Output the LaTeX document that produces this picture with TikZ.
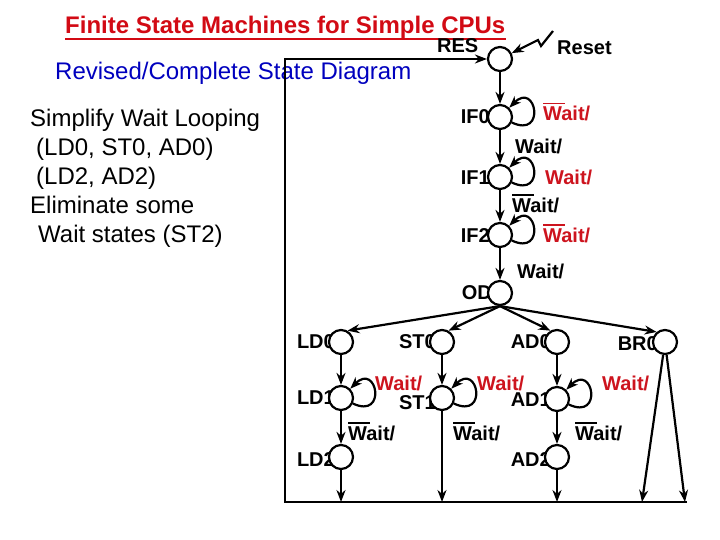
\documentclass[tikz,border=0pt]{standalone}
\usepackage{fontspec}
\setmainfont{Liberation Sans}
\usepackage{xcolor}
\usetikzlibrary{positioning,arrows.meta}

\definecolor{titlered}{RGB}{210,10,20}
\definecolor{loopred}{RGB}{205,20,30}
\definecolor{subblue}{RGB}{0,0,190}

\newcommand{\nwait}{\rlap{\rule[16.5pt]{22pt}{1.8pt}}Wait/}

\begin{document}
\begin{tikzpicture}[x=1pt,y=1pt,
  state/.style={circle,draw,fill=white,line width=2.2pt,minimum size=24pt,inner sep=0pt},
  statename/.style={font=\fontsize{20}{24}\selectfont\bfseries,inner sep=0pt,anchor=east},
  cond/.style={font=\fontsize{20}{24}\selectfont\bfseries,inner sep=0pt,anchor=base west},
  holdcond/.style={cond,text=loopred},
  note/.style={font=\fontsize{24}{29}\selectfont,inner sep=0pt,anchor=base west},
  arr/.style={line width=2.2pt,-{Stealth[length=12pt,width=9pt]}},
  selfloop/.style={arr,loop,out=-25,in=45,min distance=38pt}]

\useasboundingbox (0,-540) rectangle (720,0);

\node[anchor=base west,font=\fontsize{24}{29}\selectfont\bfseries,text=titlered,inner sep=0pt] (title) at (65,-34) {Finite State Machines for Simple CPUs};
\draw[titlered,line width=2pt] ([yshift=-5pt]title.base west) -- ([yshift=-5pt]title.base east);
\node[note,text=subblue] (sub) at (55,-80) {Revised/Complete State Diagram};

\node[note] (n1) at (30,-127) {Simplify Wait Looping};
\node[note] (n2) at (36,-156) {(LD0, ST0, AD0)};
\node[note] (n3) at (36,-185) {(LD2, AD2)};
\node[note] (n4) at (30,-214) {Eliminate some};
\node[note] (n5) at (38,-243) {Wait states (ST2)};

\node[cond] (resl) at (437,-53) {RES};
\node[cond] (rstl) at (557,-55) {Reset};
\node[statename] (if0l) at (490,-117) {IF0};
\node[statename] (if1l) at (490,-178) {IF1};
\node[statename] (if2l) at (490,-236) {IF2};
\node[statename] (odl) at (492,-293) {OD};
\node[statename] (ld0l) at (335,-342) {LD0};
\node[statename] (st0l) at (436,-342) {ST0};
\node[statename] (ad0l) at (551,-342) {AD0};
\node[statename] (br0l) at (658,-344) {BR0};
\node[statename] (ld1l) at (335,-398) {LD1};
\node[statename] (st1l) at (436,-403) {ST1};
\node[statename] (ad1l) at (551,-400) {AD1};
\node[statename] (ld2l) at (335,-460) {LD2};
\node[statename] (ad2l) at (551,-460) {AD2};

\node[state] (res) at (500,-59) {};
\node[state] (if0) at (500,-117) {};
\node[state] (if1) at (500,-177) {};
\node[state] (if2) at (500,-235) {};
\node[state] (od) at (500,-293) {};
\node[state] (ld0) at (341,-342) {};
\node[state] (st0) at (442,-342) {};
\node[state] (ad0) at (557,-342) {};
\node[state] (br0) at (665,-342) {};
\node[state] (ld1) at (341,-398) {};
\node[state] (st1) at (442,-398) {};
\node[state] (ad1) at (557,-399) {};
\node[state] (ld2) at (341,-457) {};
\node[state] (ad2) at (557,-457) {};

\node[holdcond] (if0w) at (543,-121) {\nwait};
\node[cond] (if01) at (515,-154) {Wait/};
\node[holdcond] (if1w) at (545,-185) {Wait/};
\node[cond] (if12) at (512,-212) {\nwait};
\node[holdcond] (if2w) at (543,-242) {\nwait};
\node[cond] (if2od) at (517,-278) {Wait/};
\node[holdcond] (ld1w) at (375,-390) {Wait/};
\node[holdcond] (st1w) at (477,-390) {Wait/};
\node[holdcond] (ad1w) at (602,-390) {Wait/};
\node[cond] (ld12) at (348,-440) {\nwait};
\node[cond] (st1x) at (453,-440) {\nwait};
\node[cond] (ad12) at (575,-440) {\nwait};

\coordinate (z0) at (553,-31);
\coordinate (z1) at (541,-46);
\coordinate (z2) at (538,-40);
\coordinate (bl) at (285,-502);
\coordinate (br) at (687,-502);
\coordinate (tl) at (285,-59);
\coordinate (ld2b) at (341,-502);
\coordinate (st1b) at (442,-502);
\coordinate (ad2b) at (557,-502);
\coordinate (br0b) at (642,-502);
\coordinate (br0c) at (685,-502);

\draw[arr] (z0) -- (z1) -- (z2) -- (res);
\draw[arr] (br) -- (bl) -- (tl) -- (res);

\draw[arr] (res) -- (if0);
\draw[arr] (if0) -- (if1);
\draw[arr] (if1) -- (if2);
\draw[arr] (if2) -- (od);

\draw[selfloop] (if0) to (if0);
\draw[selfloop] (if1) to (if1);
\draw[selfloop] (if2) to (if2);

\draw[arr] (od.south) -- (ld0.60);
\draw[arr] (od.south) -- (st0.60);
\draw[arr] (od.south) -- (ad0.120);
\draw[arr] (od.south) -- (br0.130);

\draw[arr] (ld0) -- (ld1);
\draw[arr] (st0) -- (st1);
\draw[arr] (ad0) -- (ad1);
\draw[arr] (ld1) -- (ld2);
\draw[arr] (ad1) -- (ad2);

\draw[selfloop] (ld1) to (ld1);
\draw[selfloop] (st1) to (st1);
\draw[selfloop] (ad1) to (ad1);

\draw[arr] (ld2) -- (ld2b);
\draw[arr] (st1) -- (st1b);
\draw[arr] (ad2) -- (ad2b);
\draw[arr] (br0) -- (br0b);
\draw[arr] (br0) -- (br0c);

\end{tikzpicture}
\end{document}
